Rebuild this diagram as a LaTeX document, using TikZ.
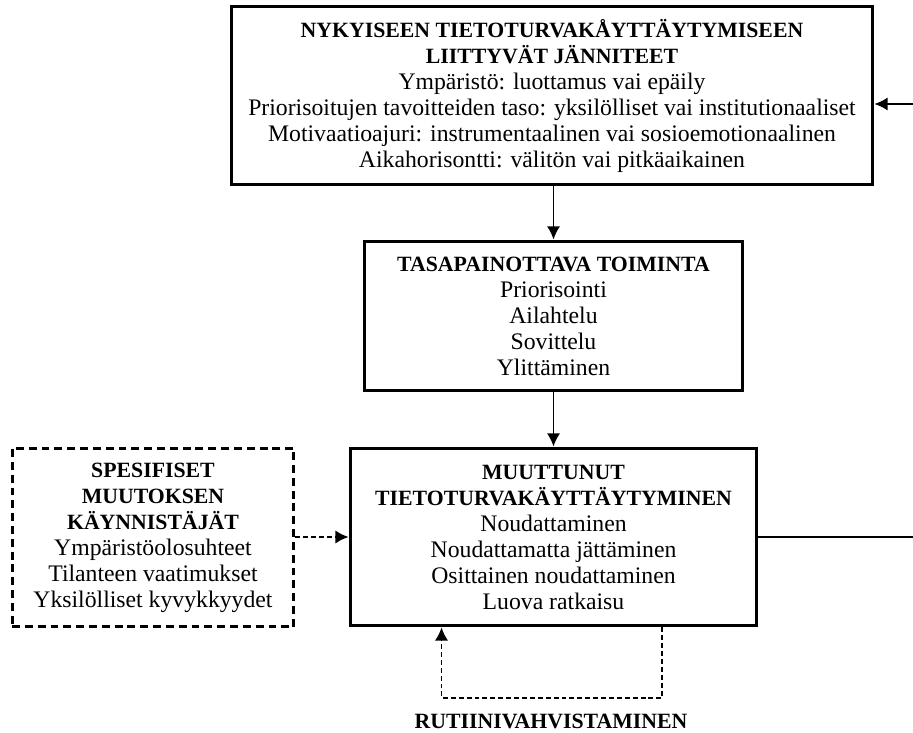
\documentclass[tikz,border=0pt]{standalone}
\usepackage{fontspec}
\setmainfont{Liberation Serif}
\usetikzlibrary{arrows.meta,positioning}
\tikzset{
  tbox/.style={draw,line width=1.7pt,align=center,inner sep=0pt,
    font=\fontsize{13.5}{14.8}\selectfont},
  dbox/.style={tbox,dash pattern=on 4.5pt off 2.8pt},
  link/.style={line width=1pt,-{Latex[length=7.5pt,width=7.5pt]}},
  dlink/.style={link,line width=0.8pt,dash pattern=on 2.8pt off 1.7pt},
}
% bold heading lines
\newcommand\hd[1]{{\fontsize{12.4}{14.8}\selectfont\bfseries #1}}
\begin{document}
\begin{tikzpicture}[x=0.02cm,y=-0.02cm]
  \useasboundingbox (0,0) rectangle (913,733);

  % The boxes
  \node[tbox,minimum width=12.84cm,minimum height=3.58cm] (tensions) at (552,95.5) {
    \hd{NYKYISEEN TIETOTURVAKÅYTTÄYTYMISEEN}\\
    \hd{LIITTYVÄT JÄNNITEET}\\
    Ympäristö: luottamus vai epäily\\
    Priorisoitujen tavoitteiden taso: yksilölliset vai institutionaaliset\\
    Motivaatioajuri: instrumentaalinen vai sosioemotionaalinen\\
    Aikahorisontti: välitön vai pitkäaikainen};
  \node[tbox,minimum width=7.58cm,minimum height=3.0cm] (balancing) at (553.5,316) {
    \hd{TASAPAINOTTAVA TOIMINTA}\\
    Priorisointi\\
    Ailahtelu\\
    Sovittelu\\
    Ylittäminen};
  \node[tbox,minimum width=8.14cm,minimum height=3.56cm] (changed) at (553.5,537) {
    \hd{MUUTTUNUT}\\
    \hd{TIETOTURVAKÄYTTÄYTYMINEN}\\
    Noudattaminen\\
    Noudattamatta jättäminen\\
    Osittainen noudattaminen\\
    Luova ratkaisu};
  \node[dbox,minimum width=5.64cm,minimum height=3.58cm] (triggers) at (153,537.5) {
    \hd{SPESIFISET}\\
    \hd{MUUTOKSEN}\\
    \hd{KÄYNNISTÄJÄT}\\
    Ympäristöolosuhteet\\
    Tilanteen vaatimukset\\
    Yksilölliset kyvykkyydet};

  % Routine loop
  \node (routine) at (551,721) {\hd{RUTIINIVAHVISTAMINEN}};

  % Connectors
  \draw[link] (balancing.north |- tensions.south) -- (balancing.north);
  \draw[link] (changed.north |- balancing.south) -- (changed.north);
  \draw[dlink] (triggers.east |- changed) -- (changed.west);
  \draw[dlink] ([xshift=2.17cm]changed.south) -- ++(0,-1.41cm) -| ([xshift=-2.24cm]changed.south);

  % Feedback, leaving the picture on the right
  \coordinate (out) at (913,537);
  \coordinate (back) at (913,104);
  \draw[line width=1pt] (changed.east) -- (out);
  \draw[link] (back) -- (back -| tensions.east);
\end{tikzpicture}
\end{document}
